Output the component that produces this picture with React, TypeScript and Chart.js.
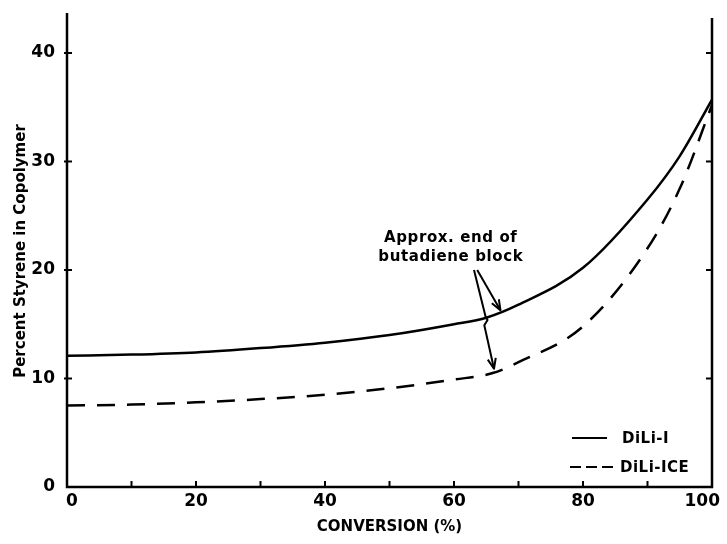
import React, { useEffect, useRef } from 'react';
import { Chart, registerables } from 'chart.js';

Chart.register(...registerables);

// ---- data ----
const conversionDiLiI = [0, 10, 20, 30, 40, 50, 60, 65, 70, 80, 90, 95, 100];
const styreneDiLiI = [12.1, 12.2, 12.4, 12.8, 13.3, 14.0, 15.0, 15.6, 16.8, 20.2, 26.5, 30.5, 35.7];
const conversionDiLiICE = [0, 10, 20, 30, 40, 50, 60, 66, 70, 80, 90, 95, 100];
const styreneDiLiICE = [7.5, 7.6, 7.8, 8.1, 8.5, 9.1, 9.9, 10.5, 11.5, 14.8, 22.0, 27.5, 35.2];
const seriesNames = ['DiLi-I', 'DiLi-ICE'];
const xTickLabels = [0, 20, 40, 60, 80, 100];
const xMinorTicks = [10, 20, 30, 40, 50, 60, 70, 80, 90];
const yTickLabels = [0, 10, 20, 30, 40];
const xTitle = 'CONVERSION (%)';
const yTitle = 'Percent Styrene in Copolymer';
const annotationText = ['Approx. end of', 'butadiene block'];
const annotationAnchor = [59.5, 22.05];
const arrowToSolid = [[63.6, 20.0], [67.2, 16.3]];
const arrowToDashed = [[63.1, 20.0], [64.9, 15.7], [65.2, 15.4], [64.7, 14.9], [66.2, 10.9]];

const FONT = '"DejaVu Sans", sans-serif';

function drawArrowHead(ctx: CanvasRenderingContext2D, x1: number, y1: number, x2: number, y2: number) {
  const ang = Math.atan2(y2 - y1, x2 - x1);
  const len = 11;
  const spread = 0.38;
  ctx.beginPath();
  ctx.moveTo(x2 - len * Math.cos(ang - spread), y2 - len * Math.sin(ang - spread));
  ctx.lineTo(x2, y2);
  ctx.lineTo(x2 - len * Math.cos(ang + spread), y2 - len * Math.sin(ang + spread));
  ctx.stroke();
}

const framePlugin = {
  id: 'frame',
  afterDraw(chart: any) {
    const { ctx, chartArea, width } = chart;
    const xs = chart.scales.x;
    const ys = chart.scales.y;
    const { left, right, top, bottom } = chartArea;
    ctx.save();
    ctx.strokeStyle = '#000';
    ctx.fillStyle = '#000';
    ctx.lineCap = 'butt';
    // axes
    ctx.lineWidth = 2.5;
    ctx.beginPath();
    ctx.moveTo(left, top - 2);
    ctx.lineTo(left, bottom);
    ctx.lineTo(right, bottom);
    ctx.lineTo(right, top + 3);
    ctx.stroke();
    // x ticks (inward)
    ctx.lineWidth = 2;
    xMinorTicks.forEach((v) => {
      const px = xs.getPixelForValue(v);
      ctx.beginPath();
      ctx.moveTo(px, bottom);
      ctx.lineTo(px, bottom - 6);
      ctx.stroke();
    });
    // y ticks
    yTickLabels.slice(1).forEach((v) => {
      const py = ys.getPixelForValue(v);
      ctx.beginPath();
      ctx.moveTo(left - 3, py);
      ctx.lineTo(left + 5, py);
      ctx.stroke();
      ctx.beginPath();
      ctx.moveTo(right, py);
      ctx.lineTo(right - 6, py);
      ctx.stroke();
    });

    // x tick labels (kept inside the canvas)
    ctx.font = `bold 17px ${FONT}`;
    ctx.textAlign = 'left';
    ctx.textBaseline = 'top';
    xTickLabels.forEach((v) => {
      const s = String(v);
      const w = ctx.measureText(s).width;
      let x0 = xs.getPixelForValue(v) - w / 2;
      x0 = Math.max(x0, left - 1);
      x0 = Math.min(x0, width - 7 - w);
      ctx.fillText(s, x0, bottom + 6);
    });

    // annotation
    ctx.font = `bold 15px ${FONT}`;
    (ctx as any).letterSpacing = '0.6px';
    ctx.textAlign = 'center';
    ctx.textBaseline = 'middle';
    const ax = xs.getPixelForValue(annotationAnchor[0]);
    const ay = ys.getPixelForValue(annotationAnchor[1]);
    ctx.fillText(annotationText[0], ax, ay - 9.5);
    ctx.fillText(annotationText[1], ax, ay + 9.5);

    ctx.lineWidth = 2;
    ctx.lineJoin = 'round';
    const p = (d: number[]) => [xs.getPixelForValue(d[0]), ys.getPixelForValue(d[1])];
    const a0 = p(arrowToSolid[0]);
    const a1 = p(arrowToSolid[1]);
    ctx.beginPath();
    ctx.moveTo(a0[0], a0[1]);
    ctx.lineTo(a1[0], a1[1]);
    ctx.stroke();
    drawArrowHead(ctx, a0[0], a0[1], a1[0], a1[1]);

    const pts = arrowToDashed.map(p);
    ctx.beginPath();
    ctx.moveTo(pts[0][0], pts[0][1]);
    for (let i = 1; i < pts.length; i++) ctx.lineTo(pts[i][0], pts[i][1]);
    ctx.stroke();
    const n = pts.length;
    drawArrowHead(ctx, pts[n - 2][0], pts[n - 2][1], pts[n - 1][0], pts[n - 1][1]);

    // legend
    ctx.font = `bold 15px ${FONT}`;
    (ctx as any).letterSpacing = '0.5px';
    ctx.textAlign = 'left';
    const lx = right - 142;
    const ly1 = bottom - 49;
    const ly2 = bottom - 20;
    ctx.lineWidth = 2.2;
    ctx.setLineDash([]);
    ctx.beginPath();
    ctx.moveTo(lx + 2, ly1);
    ctx.lineTo(lx + 37, ly1);
    ctx.stroke();
    ctx.fillText(seriesNames[0], lx + 52, ly1 + 1);
    ctx.setLineDash([11, 5]);
    ctx.beginPath();
    ctx.moveTo(lx, ly2);
    ctx.lineTo(lx + 47, ly2);
    ctx.stroke();
    ctx.setLineDash([]);
    ctx.fillText(seriesNames[1], lx + 50, ly2 + 1);
    ctx.restore();
  },
};

export default function App() {
  const ref = useRef<HTMLCanvasElement>(null);
  useEffect(() => {
    if (!ref.current) return;
    const chart = new Chart(ref.current, {
      type: 'line',
      data: {
        datasets: [
          {
            label: seriesNames[0],
            data: conversionDiLiI.map((x, i) => ({ x, y: styreneDiLiI[i] })),
            borderColor: '#000',
            borderWidth: 2.5,
            pointRadius: 0,
            cubicInterpolationMode: 'monotone',
            fill: false,
          },
          {
            label: seriesNames[1],
            data: conversionDiLiICE.map((x, i) => ({ x, y: styreneDiLiICE[i] })),
            borderColor: '#000',
            borderWidth: 2.5,
            borderDash: [18, 12],
            pointRadius: 0,
            cubicInterpolationMode: 'monotone',
            fill: false,
          },
        ],
      },
      options: {
        animation: false,
        responsive: false,
        devicePixelRatio: 1,
        layout: { padding: { top: 15, right: 15, left: 0, bottom: 0 } },
        plugins: { legend: { display: false }, tooltip: { enabled: false } },
        scales: {
          x: {
            type: 'linear',
            min: 0,
            max: 100,
            afterBuildTicks: (s: any) => {
              s.ticks = xTickLabels.map((v) => ({ value: v }));
            },
            afterFit: (s: any) => {
              s.height = 57;
              s.paddingLeft = 0;
              s.paddingRight = 0;
            },
            grid: { display: false },
            border: { display: false },
            ticks: { display: false },
            title: {
              display: true,
              text: xTitle,
              color: '#000',
              font: { family: FONT, size: 15, weight: 'bold' },
              padding: { top: 0, bottom: 8 },
            },
          },
          y: {
            type: 'linear',
            min: 0,
            max: 43.5,
            afterBuildTicks: (s: any) => {
              s.ticks = yTickLabels.map((v) => ({ value: v }));
            },
            afterFit: (s: any) => {
              s.width = 67;
              s.paddingTop = 0;
              s.paddingBottom = 0;
            },
            grid: { display: false },
            border: { display: false },
            ticks: {
              color: '#000',
              font: { family: FONT, size: 17, weight: 'bold' },
              padding: 4,
              autoSkip: false,
            },
            title: {
              display: true,
              text: yTitle,
              color: '#000',
              font: { family: FONT, size: 15, weight: 'bold' },
              padding: { top: 12, bottom: 0 },
            },
          },
        },
      },
      plugins: [framePlugin],
    } as any);
    return () => chart.destroy();
  }, []);
  return (
    <div style={{ position: 'absolute', left: 0, top: 0, width: 727, height: 544, background: '#fff' }}>
      <canvas ref={ref} width={727} height={544} style={{ display: 'block', width: 727, height: 544 }} />
    </div>
  );
}
